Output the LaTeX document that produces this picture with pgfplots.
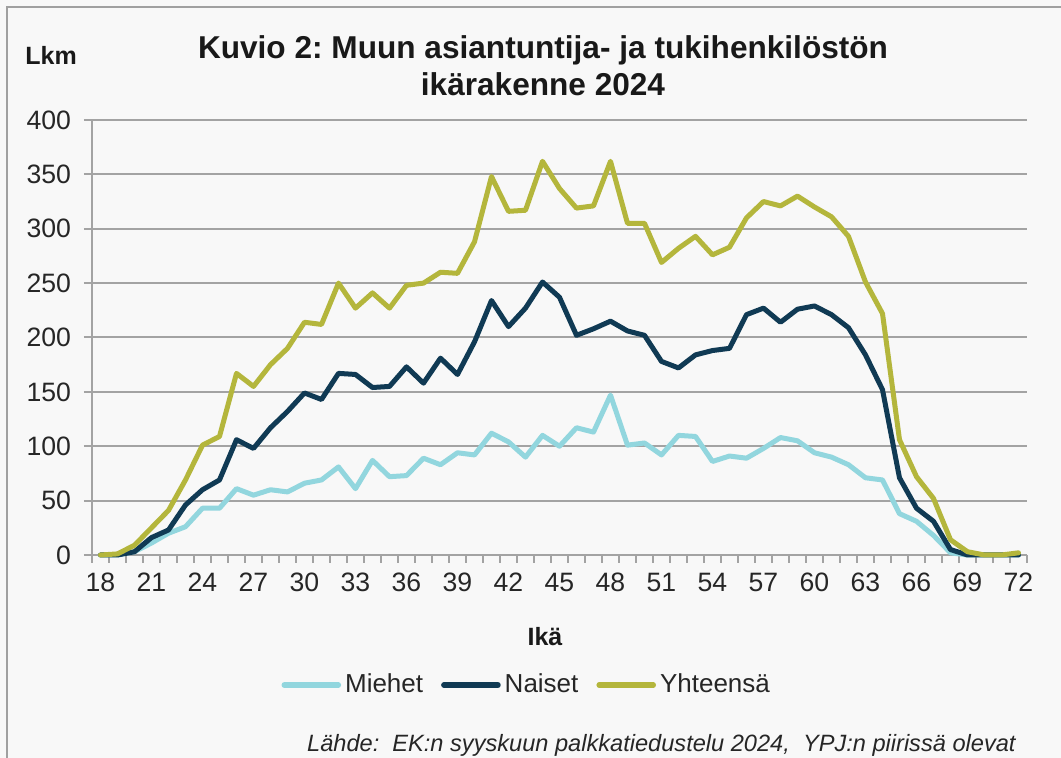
\documentclass[border=0pt]{standalone}
\usepackage{pgfplots}
\pgfplotsset{compat=1.18}
\usepackage{pgfplotstable}
\usepackage{fontspec}
\setmainfont{Liberation Sans}
\frenchspacing
\definecolor{bg}{HTML}{F8F8F8}
\definecolor{frame}{HTML}{A0A0A0}
\definecolor{gridc}{HTML}{A3A3A3}
\definecolor{cMiehet}{RGB}{146,214,222}
\definecolor{cNaiset}{RGB}{16,58,84}
\definecolor{cYht}{RGB}{180,182,60}
\pgfplotstableread{
age miehet naiset yht
18 0 0 0
19 0 0 1
20 3 3 9
21 11 16 25
22 20 23 41
23 26 46 69
24 43 60 101
25 43 69 109
26 61 106 167
27 55 98 155
28 60 117 175
29 58 132 190
30 66 149 214
31 69 143 212
32 81 167 250
33 61 166 227
34 87 154 241
35 72 155 227
36 73 173 248
37 89 158 250
38 83 181 260
39 94 166 259
40 92 196 288
41 112 234 348
42 104 210 316
43 90 227 317
44 110 251 362
45 100 237 337
46 117 202 319
47 113 208 321
48 147 215 362
49 101 206 305
50 103 202 305
51 92 178 269
52 110 172 282
53 109 184 293
54 86 188 276
55 91 190 283
56 89 221 310
57 98 227 325
58 108 214 321
59 105 226 330
60 94 229 320
61 90 221 311
62 83 209 293
63 71 184 251
64 69 152 222
65 38 71 106
66 31 43 72
67 18 31 52
68 2 5 14
69 0 0 3
70 0 0 0
71 0 0 0
72 0 0 2
}\data
\begin{document}
\begin{tikzpicture}
\path[use as bounding box] (-46pt,-101.5pt) rectangle (484.5pt,277.5pt);
\fill[bg] (-46pt,-101.5pt) rectangle (484.5pt,277.5pt);
\draw[frame, line width=1pt] (-42.5pt,-102pt) -- (-42.5pt,274pt) -- (485pt,274pt);
\begin{axis}[
  at={(0,0)}, anchor=south west,
  scale only axis, width=467.5pt, height=217.5pt,
  xmin=17.5, xmax=72.5, ymin=0, ymax=400,
  ytick={0,50,...,400},
  xtick={17.5,18.5,...,72.5}, xticklabels={},
  extra x ticks={18,21,...,72},
  extra x tick style={major tick length=0pt, grid=none},
  xtick pos=bottom, ytick pos=left,
  tick align=outside, major tick length=4pt,
  axis line style={draw=none},
  tick style={gridc, line width=1pt},
  ymajorgrids, major grid style={gridc, line width=1pt},
  /pgf/number format/assume math mode=true,
  tick label style={font=\fontsize{13.3}{15}\selectfont, text=black!85},
  xticklabel style={yshift=-5.5pt},
  yticklabel style={xshift=-3pt},
  clip=false,
  legend style={at={(axis description cs:0.4660,-0.299)}, anchor=center,
    draw=none, fill=none, legend columns=3,
    font=\fontsize{13}{15}\selectfont, text=black!85,
    /tikz/every even column/.append style={column sep=7pt}},
  legend image code/.code={\draw[#1,line width=2.8pt,line cap=round] (0pt,0pt) -- (27pt,0pt);},
  every axis plot/.append style={line width=2.5pt, line join=round, line cap=round, mark=none},
]
\draw[gridc, line width=1pt] (rel axis cs:0,0) -- (rel axis cs:0,1);
\draw[gridc, line width=1pt] (rel axis cs:0,0) -- (rel axis cs:1,0);
\addplot[cMiehet] table[x=age, y=miehet] {\data};
\addlegendentry{Miehet}
\addplot[cNaiset] table[x=age, y=naiset] {\data};
\addlegendentry{Naiset}
\addplot[cYht] table[x=age, y=yht] {\data};
\addlegendentry{Yhteensä}
\end{axis}
\node[font=\bfseries\fontsize{15.8}{18.5}\selectfont, align=center, text=black!90] at (225.5pt,244.5pt) {Kuvio 2: Muun asiantuntija- ja tukihenkilöstön\\ikärakenne 2024};
\node[anchor=west, inner sep=0pt, font=\bfseries\fontsize{12.5}{14}\selectfont, text=black!90] at (-33.5pt,250pt) {Lkm};
\node[font=\bfseries\fontsize{12.5}{14}\selectfont, text=black!90] at (226.5pt,-41pt) {Ikä};
\node[anchor=base east, inner sep=0pt, font=\itshape\fontsize{11.8}{14}\selectfont, text=black!85] at (462pt,-98.5pt) {Lähde:~ EK:n syyskuun palkkatiedustelu 2024,~ YPJ:n piirissä olevat};
\end{tikzpicture}
\end{document}
